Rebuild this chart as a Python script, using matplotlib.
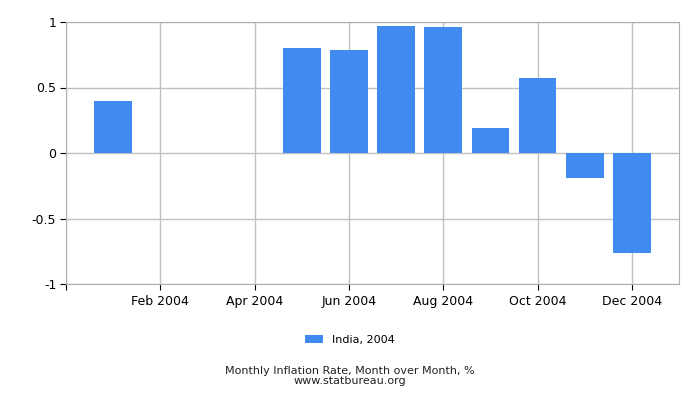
import numpy as np
import matplotlib
matplotlib.use("Agg")
import matplotlib.pyplot as plt

plt.rcParams['font.family'] = ['DejaVu Sans']
plt.rcParams['axes.unicode_minus'] = False

months = np.arange(1, 13)
values = [0.40, 0.0, 0.0, 0.0, 0.80, 0.79, 0.97, 0.96, 0.19, 0.57, -0.19, -0.76]
tick_months = [0, 2, 4, 6, 8, 10, 12]
tick_labels = ['', 'Feb 2004', 'Apr 2004', 'Jun 2004', 'Aug 2004', 'Oct 2004', 'Dec 2004']
series_name = 'India, 2004'

fig = plt.figure(figsize=(7, 4), dpi=100)
ax = fig.add_axes([66 / 700, 1 - 284 / 400, 613 / 700, 262 / 400])

ax.bar(months, values, width=0.8, color='#418bf0', zorder=3, label=series_name)

ax.set_xlim(0, 13)
ax.set_ylim(-1, 1)
ax.set_yticks([-1, -0.5, 0, 0.5, 1])
ax.set_yticklabels(['-1', '-0.5', '0', '0.5', '1'])
ax.set_xticks(tick_months)
ax.set_xticklabels(tick_labels)

ax.grid(True, color='#c0c0c0', linewidth=1, zorder=0)
for s in ax.spines.values():
    s.set_color('#b0b0b0')
ax.tick_params(axis='both', labelsize=9, length=4, color='#000000', pad=3)
ax.tick_params(axis='x', pad=4)

fig.legend(loc='center', bbox_to_anchor=(0.5, 1 - 340 / 400), frameon=False,
           fontsize=8, handlelength=1.6, handleheight=0.7)
fig.text(0.5, 1 - 371 / 400, 'Monthly Inflation Rate, Month over Month, %',
         ha='center', va='center', fontsize=8, color='#222222')
fig.text(0.5, 1 - 381 / 400, 'www.statbureau.org',
         ha='center', va='center', fontsize=8, color='#222222')

fig.savefig('out.png', dpi=100)
